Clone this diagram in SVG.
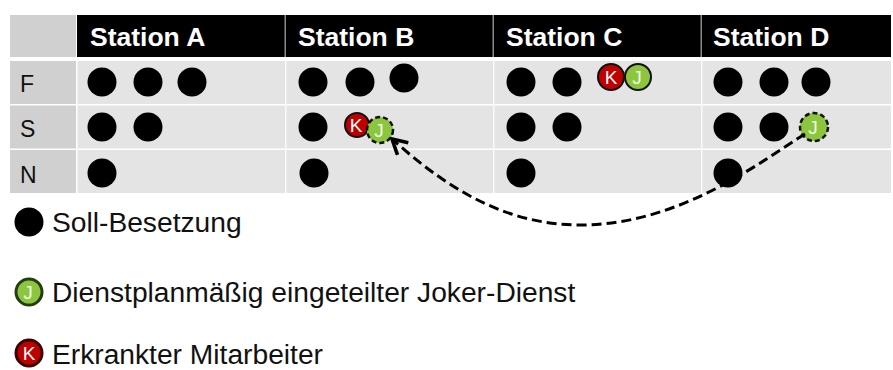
<svg xmlns="http://www.w3.org/2000/svg" width="893" height="370" viewBox="0 0 893 370">
<style>
.hdr{fill:#000}
.lab{fill:#d0d0d0}
.cell{fill:#e4e4e4}
.ht{font-family:"Liberation Sans",Arial,sans-serif;font-weight:bold;font-size:26.5px;fill:#fff}
.rt{font-family:"Liberation Sans",Arial,sans-serif;font-size:23px;fill:#111}
.lt{font-family:"Liberation Sans",Arial,sans-serif;font-size:28.2px;fill:#111}
.dot{fill:#000}
.k{fill:#c00000;stroke:#111;stroke-width:2}
.j{fill:#8cc63f;stroke:#111;stroke-width:2}
.jd{fill:#8cc63f;stroke:#111;stroke-width:2.5;stroke-dasharray:5 3}
.ic{font-family:"Liberation Sans",Arial,sans-serif;font-size:19px;fill:#fff;text-anchor:middle}
.icj{font-family:"Liberation Sans",Arial,sans-serif;font-size:19px;fill:#eef8e0;text-anchor:middle}
.conn{fill:none;stroke:#000;stroke-width:3;stroke-dasharray:10 5}
</style>
<defs>
<marker id="arr" viewBox="0 0 12 12" refX="10" refY="6" markerWidth="6.5" markerHeight="6.5" orient="auto" markerUnits="strokeWidth">
<path d="M1,1 L10,6 L1,11" fill="none" stroke="#000" stroke-width="2.2"/>
</marker>
</defs>
<rect width="893" height="370" fill="#fff"/>
<g id="table">
<rect class="lab" x="10" y="15" width="66" height="42"/>
<rect class="hdr" x="77" y="15" width="814" height="42"/>
<rect x="284.5" y="15" width="1.5" height="42" fill="#8a8a8a"/>
<rect x="492.5" y="15" width="1.5" height="42" fill="#8a8a8a"/>
<rect x="700.5" y="15" width="1.5" height="42" fill="#8a8a8a"/>
<text class="ht" x="90" y="46">Station A</text>
<text class="ht" x="298" y="46">Station B</text>
<text class="ht" x="506" y="46">Station C</text>
<text class="ht" x="713" y="46">Station D</text>
<rect class="lab" x="10" y="61" width="66" height="43"/>
<rect class="lab" x="10" y="105.5" width="66" height="43"/>
<rect class="lab" x="10" y="150" width="66" height="43"/>
<rect class="cell" x="77.5" y="61" width="813.5" height="43"/>
<rect class="cell" x="77.5" y="105.5" width="813.5" height="43"/>
<rect class="cell" x="77.5" y="150" width="813.5" height="43"/>
<rect x="285" y="61" width="1.5" height="132" fill="#fafafa"/>
<rect x="493" y="61" width="1.5" height="132" fill="#fafafa"/>
<rect x="701" y="61" width="1.5" height="132" fill="#fafafa"/>
<text class="rt" x="20" y="92">F</text>
<text class="rt" x="20" y="137">S</text>
<text class="rt" x="20" y="183">N</text>
</g>
<g id="stationA">
<circle class="dot" cx="102" cy="82" r="14.5"/>
<circle class="dot" cx="148" cy="82" r="14.5"/>
<circle class="dot" cx="192" cy="82" r="14.5"/>
<circle class="dot" cx="102" cy="127" r="14.5"/>
<circle class="dot" cx="148" cy="127" r="14.5"/>
<circle class="dot" cx="102" cy="173" r="14.5"/>
</g>
<g id="stationB">
<circle class="dot" cx="313" cy="82" r="14.5"/>
<circle class="dot" cx="360" cy="82" r="14.5"/>
<circle class="dot" cx="404" cy="78" r="14.5"/>
<circle class="dot" cx="313" cy="127" r="14.5"/>
<circle class="dot" cx="314" cy="173" r="14.5"/>
</g>
<g id="stationB-K">
<circle class="k" cx="357" cy="125" r="12"/>
<text class="ic" x="356" y="132">K</text>
</g>
<g id="stationB-J">
<circle class="jd" cx="380" cy="130" r="13"/>
<text class="icj" x="379" y="137">J</text>
</g>
<g id="stationC">
<circle class="dot" cx="521" cy="82" r="14.5"/>
<circle class="dot" cx="567" cy="82" r="14.5"/>
<circle class="dot" cx="521" cy="127" r="14.5"/>
<circle class="dot" cx="567" cy="127" r="14.5"/>
<circle class="dot" cx="521" cy="173" r="14.5"/>
</g>
<g id="stationC-K">
<circle class="k" cx="611" cy="77" r="13"/>
<text class="ic" x="611" y="84">K</text>
</g>
<g id="stationC-J">
<circle class="j" cx="638" cy="77" r="13"/>
<text class="icj" x="637" y="84">J</text>
</g>
<g id="stationD">
<circle class="dot" cx="728" cy="82" r="14.5"/>
<circle class="dot" cx="774" cy="82" r="14.5"/>
<circle class="dot" cx="816" cy="82" r="14.5"/>
<circle class="dot" cx="728" cy="127" r="14.5"/>
<circle class="dot" cx="774" cy="127" r="14.5"/>
<circle class="dot" cx="728" cy="173" r="14.5"/>
</g>
<g id="stationD-J">
<circle class="jd" cx="814" cy="127" r="14"/>
<text class="icj" x="813" y="134">J</text>
</g>
<g id="connectors">
<path class="conn" d="M805,134 C760,162 680,225 580,225 C500,225 440,182 392,139" marker-end="url(#arr)"/>
</g>
<g id="legend-soll">
<circle class="dot" cx="29" cy="222" r="14.5"/>
<text class="lt" x="52" y="232">Soll-Besetzung</text>
</g>
<g id="legend-joker">
<circle cx="29" cy="292" r="13" fill="#8cc63f" stroke="#233d10" stroke-width="3"/>
<text class="icj" x="28" y="299">J</text>
<text class="lt" x="52" y="302">Dienstplanmäßig eingeteilter Joker-Dienst</text>
</g>
<g id="legend-krank">
<circle cx="29" cy="353" r="13" fill="#c00000" stroke="#3a0000" stroke-width="3"/>
<text class="ic" x="29" y="360">K</text>
<text class="lt" x="52" y="364">Erkrankter Mitarbeiter</text>
</g>
</svg>
